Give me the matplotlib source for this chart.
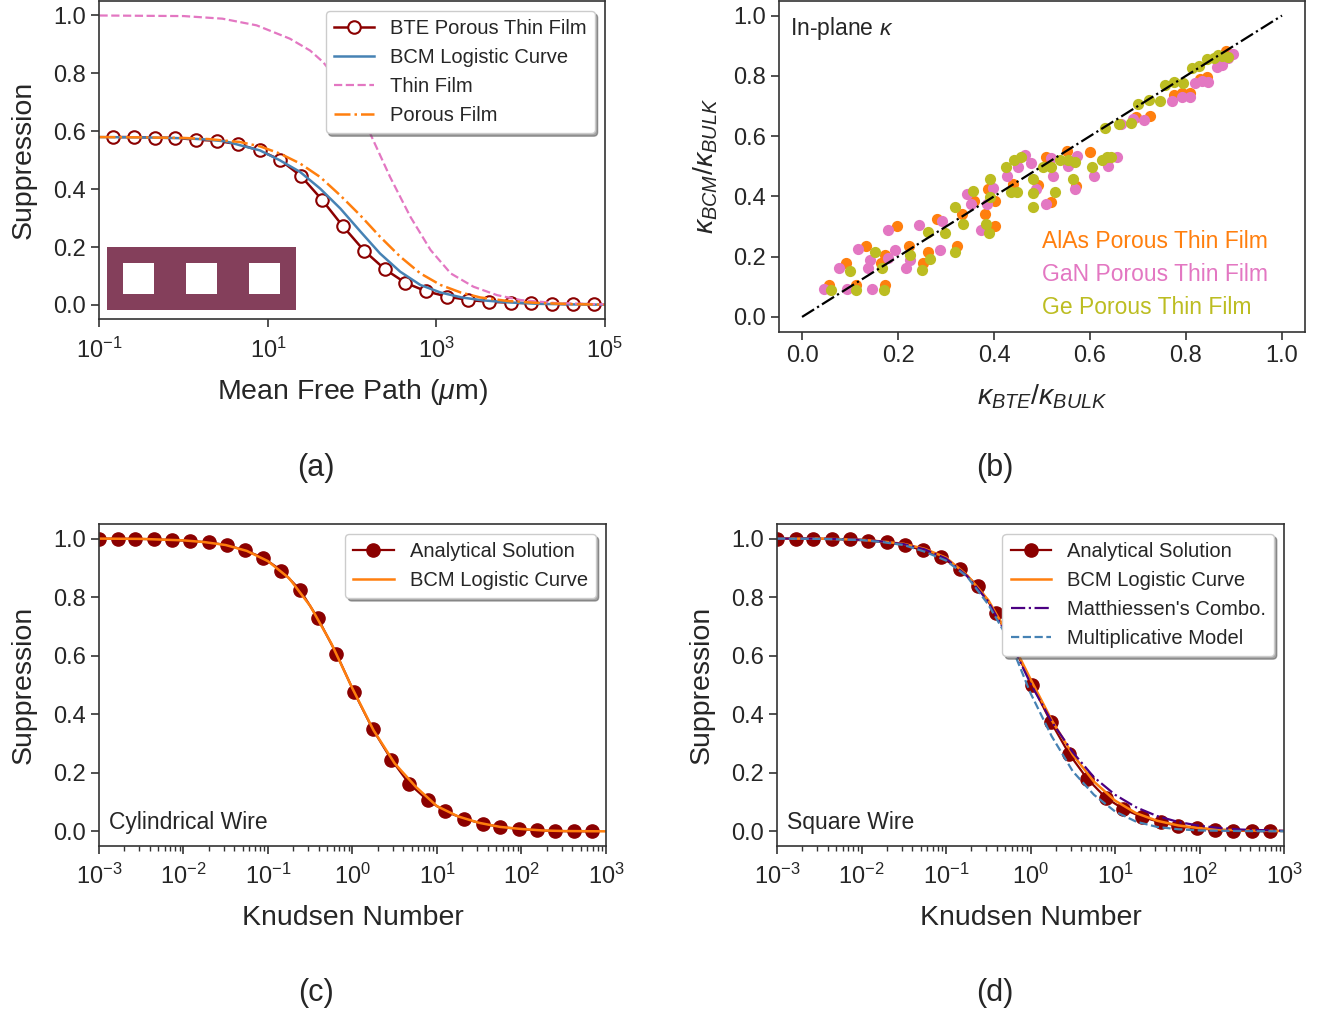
import numpy as np
import matplotlib
matplotlib.use("Agg")
import matplotlib.pyplot as plt
from matplotlib.patches import Rectangle
from matplotlib.ticker import FixedLocator, NullLocator

plt.rcParams['font.family'] = ['Liberation Sans', 'DejaVu Sans']
plt.rcParams['mathtext.fontset'] = 'custom'
plt.rcParams['mathtext.rm'] = 'Liberation Sans'
plt.rcParams['mathtext.it'] = 'Liberation Sans:italic'
plt.rcParams['mathtext.bf'] = 'Liberation Sans:bold'
plt.rcParams['text.color'] = '#262626'
plt.rcParams['axes.labelcolor'] = '#262626'
plt.rcParams['axes.edgecolor'] = '#333333'
plt.rcParams['axes.linewidth'] = 1.2
plt.rcParams['xtick.color'] = '#333333'
plt.rcParams['ytick.color'] = '#333333'
plt.rcParams['xtick.labelcolor'] = '#262626'
plt.rcParams['ytick.labelcolor'] = '#262626'

# ---- (a) porous thin film, suppression vs mean free path (log10 um)
mfp_exp = [-0.84, -0.59, -0.34, -0.10, 0.15, 0.40, 0.65, 0.90, 1.14, 1.39, 1.64, 1.89,
           2.14, 2.39, 2.63, 2.88, 3.13, 3.38, 3.63, 3.88, 4.12, 4.37, 4.62, 4.87]
bte_porous = [0.580, 0.580, 0.578, 0.577, 0.571, 0.567, 0.555, 0.534, 0.502, 0.446, 0.364, 0.272,
              0.188, 0.123, 0.077, 0.047, 0.029, 0.017, 0.011, 0.008, 0.006, 0.004, 0.003, 0.003]

bcm_a_exp = [-1.0, -0.5, 0.0, 0.25, 0.5, 0.667, 0.905, 1.14, 1.38, 1.62, 1.86, 2.10, 2.33,
             2.57, 2.81, 3.05, 3.30, 3.55, 3.85, 4.2, 4.6, 5.0]
bcm_a = [0.580, 0.579, 0.576, 0.572, 0.565, 0.552, 0.534, 0.500, 0.460, 0.402, 0.333, 0.253, 0.178,
         0.115, 0.069, 0.043, 0.026, 0.016, 0.009, 0.004, 0.002, 0.001]

thin_exp = [-1.0, 0.0, 0.46, 0.865, 1.26, 1.5, 1.655, 1.8, 2.0, 2.214, 2.45, 2.69, 2.93,
            3.17, 3.44, 3.72, 4.0, 4.4, 5.0]
thin_film = [1.0, 0.998, 0.989, 0.966, 0.920, 0.879, 0.839, 0.786, 0.694, 0.592, 0.442, 0.305, 0.190,
             0.109, 0.063, 0.034, 0.017, 0.007, 0.002]

porous_exp = [-1.0, -0.5, 0.0, 0.3, 0.667, 0.905, 1.143, 1.38, 1.62, 1.857, 2.095, 2.33, 2.57,
              2.81, 3.05, 3.29, 3.52, 3.84, 4.2, 4.6, 5.0]
porous_film = [0.580, 0.579, 0.577, 0.573, 0.563, 0.548, 0.523, 0.489, 0.442, 0.379, 0.310, 0.236, 0.167,
               0.109, 0.069, 0.043, 0.026, 0.014, 0.007, 0.003, 0.001]

# ---- (b) in-plane kappa: BTE vs BCM
alas_bte = [0.057, 0.092, 0.113, 0.134, 0.172, 0.165, 0.173, 0.198, 0.223, 0.251, 0.262, 0.281,
            0.322, 0.334, 0.358, 0.382, 0.403, 0.387, 0.401, 0.440, 0.491, 0.519, 0.509, 0.553,
            0.570, 0.599, 0.696, 0.726, 0.774, 0.791, 0.809, 0.829, 0.844, 0.883]
alas_bcm = [0.107, 0.178, 0.107, 0.237, 0.107, 0.178, 0.204, 0.302, 0.237, 0.178, 0.217, 0.324,
            0.237, 0.341, 0.384, 0.341, 0.302, 0.425, 0.384, 0.442, 0.437, 0.383, 0.530, 0.549,
            0.433, 0.547, 0.662, 0.667, 0.735, 0.744, 0.744, 0.789, 0.797, 0.881]

gan_bte = [0.046, 0.078, 0.094, 0.116, 0.142, 0.138, 0.145, 0.180, 0.193, 0.179, 0.217, 0.225,
           0.243, 0.288, 0.292, 0.343, 0.353, 0.372, 0.398, 0.385, 0.428, 0.449, 0.464, 0.477,
           0.488, 0.509, 0.518, 0.523, 0.555, 0.572, 0.569, 0.608, 0.638, 0.657, 0.664, 0.689,
           0.712, 0.770, 0.791, 0.808, 0.818, 0.834, 0.846, 0.864, 0.876, 0.887, 0.897]
gan_bcm = [0.093, 0.161, 0.093, 0.225, 0.189, 0.161, 0.093, 0.195, 0.223, 0.287, 0.161, 0.189,
           0.305, 0.223, 0.318, 0.408, 0.375, 0.287, 0.428, 0.375, 0.467, 0.498, 0.538, 0.512,
           0.425, 0.375, 0.527, 0.467, 0.501, 0.534, 0.425, 0.467, 0.501, 0.532, 0.639, 0.656,
           0.654, 0.716, 0.729, 0.729, 0.777, 0.782, 0.780, 0.830, 0.836, 0.858, 0.872]

ge_bte = [0.060, 0.099, 0.113, 0.152, 0.170, 0.166, 0.224, 0.250, 0.267, 0.263, 0.297, 0.318,
          0.318, 0.336, 0.357, 0.384, 0.389, 0.391, 0.392, 0.424, 0.435, 0.447, 0.442, 0.456,
          0.481, 0.481, 0.481, 0.528, 0.502, 0.519, 0.537, 0.555, 0.569, 0.565, 0.604, 0.625,
          0.636, 0.643, 0.631, 0.661, 0.686, 0.700, 0.723, 0.745, 0.756, 0.775, 0.794, 0.813,
          0.827, 0.844, 0.859, 0.866, 0.876, 0.887]
ge_bcm = [0.091, 0.153, 0.091, 0.214, 0.091, 0.161, 0.206, 0.155, 0.192, 0.281, 0.279, 0.214,
          0.366, 0.309, 0.417, 0.307, 0.279, 0.459, 0.397, 0.498, 0.414, 0.414, 0.521, 0.530,
          0.459, 0.412, 0.366, 0.416, 0.496, 0.498, 0.521, 0.521, 0.515, 0.459, 0.498, 0.521,
          0.532, 0.530, 0.628, 0.639, 0.642, 0.707, 0.721, 0.718, 0.768, 0.780, 0.777, 0.827,
          0.834, 0.856, 0.858, 0.870, 0.867, 0.864]

# ---- (c), (d) wires, suppression vs Knudsen number (log10)
kn_exp = [-3.00, -2.78, -2.57, -2.35, -2.14, -1.92, -1.70, -1.49, -1.27, -1.06, -0.84, -0.62, -0.41, -0.19,
          0.02, 0.24, 0.46, 0.67, 0.89, 1.10, 1.32, 1.54, 1.75, 1.97, 2.18, 2.40, 2.62, 2.83]
cyl_analytical = [1.0, 1.0, 0.999, 0.998, 0.995, 0.992, 0.987, 0.978, 0.960, 0.935, 0.891, 0.825, 0.728, 0.607,
                  0.475, 0.349, 0.245, 0.163, 0.106, 0.068, 0.043, 0.026, 0.015, 0.008, 0.003, 0.001, 0.0, 0.0]
sq_analytical = [1.0, 1.0, 1.0, 0.999, 0.997, 0.993, 0.987, 0.978, 0.960, 0.937, 0.896, 0.837, 0.745, 0.625,
                 0.500, 0.374, 0.263, 0.180, 0.115, 0.076, 0.049, 0.031, 0.018, 0.010, 0.006, 0.002, 0.001, 0.0]

curve_exp = [-3.0, -2.5, -2.0, -1.75, -1.5, -1.25, -1.0, -0.75, -0.5, -0.25, 0.0, 0.25, 0.5,
             0.75, 1.0, 1.25, 1.5, 1.75, 2.0, 2.25, 2.5, 3.0]
cyl_bcm = [1.0, 0.999, 0.994, 0.988, 0.978, 0.958, 0.923, 0.865, 0.770, 0.642, 0.488, 0.345, 0.232,
           0.152, 0.086, 0.051, 0.029, 0.015, 0.008, 0.003, 0.001, 0.0]
sq_bcm = [1.0, 1.0, 0.996, 0.990, 0.982, 0.965, 0.935, 0.875, 0.790, 0.665, 0.520, 0.380, 0.262,
          0.170, 0.105, 0.062, 0.036, 0.020, 0.011, 0.006, 0.003, 0.001]
sq_matthiessen = [1.0, 1.0, 0.996, 0.990, 0.981, 0.963, 0.932, 0.872, 0.785, 0.655, 0.505, 0.375, 0.270,
                  0.185, 0.125, 0.082, 0.052, 0.032, 0.019, 0.011, 0.006, 0.002]
sq_multiplicative = [1.0, 0.999, 0.995, 0.988, 0.978, 0.955, 0.925, 0.870, 0.775, 0.650, 0.472, 0.325, 0.205,
                     0.125, 0.068, 0.033, 0.015, 0.007, 0.003, 0.002, 0.001, 0.0]

RED = '#8b0000'
BLUE = '#4682b4'
PINK = '#e377c2'
ORANGE = '#ff7f0e'
OLIVE = '#bcbd22'
INDIGO = '#4b0082'

TICK = 17
LABEL = 20.5
LEG = 14.5

fig = plt.figure(figsize=(13.28, 10.19), dpi=100)
ax_a = fig.add_axes([0.0749, 0.6865, 0.3806, 0.3125])
ax_b = fig.add_axes([0.5866, 0.6742, 0.3961, 0.3253])
ax_c = fig.add_axes([0.0745, 0.1698, 0.3818, 0.3160])
ax_d = fig.add_axes([0.5851, 0.1698, 0.3818, 0.3160])

for ax in (ax_a, ax_b, ax_c, ax_d):
    ax.tick_params(which='major', direction='out', length=6, width=1.2, labelsize=TICK)
    ax.tick_params(which='minor', direction='out', length=3.5, width=1.0)
for ax in (ax_a, ax_c, ax_d):
    ax.tick_params(axis='x', which='major', pad=7)

legkw = dict(fontsize=LEG, fancybox=True, shadow=True, framealpha=1, loc='upper right',
             edgecolor='#cccccc')

# (a)
ax = ax_a
ax.plot(10 ** np.array(mfp_exp), bte_porous, '-o', color=RED, lw=1.8, ms=9,
        mfc='white', mec=RED, mew=1.5, label='BTE Porous Thin Film')
ax.plot(10 ** np.array(bcm_a_exp), bcm_a, '-', color=BLUE, lw=1.8, label='BCM Logistic Curve')
ax.plot(10 ** np.array(thin_exp), thin_film, '--', color=PINK, lw=1.6, label='Thin Film')
ax.plot(10 ** np.array(porous_exp), porous_film, '-.', color=ORANGE, lw=1.8, label='Porous Film')
ax.set_xscale('log')
ax.set_xlim(1e-1, 1e5)
ax.set_ylim(-0.05, 1.05)
ax.xaxis.set_major_locator(FixedLocator([1e-1, 1e1, 1e3, 1e5]))
ax.xaxis.set_minor_locator(NullLocator())
ax.set_yticks([0.0, 0.2, 0.4, 0.6, 0.8, 1.0])
ax.set_xlabel(r'Mean Free Path ($\mu$m)', fontsize=LABEL, labelpad=10.5)
ax.set_ylabel('Suppression', fontsize=LABEL, labelpad=12)
ax.legend(**legkw)
ins = ax.inset_axes([0.0154, 0.0298, 0.3727, 0.1966])
ins.set_facecolor('#843f5b')
for s in ins.spines.values():
    s.set_visible(False)
ins.set_xticks([])
ins.set_yticks([])
for x0 in (0.085, 0.418, 0.750):
    ins.add_patch(Rectangle((x0, 0.255), 0.165, 0.494, transform=ins.transAxes,
                            facecolor='white', edgecolor='none'))

# (b)
ax = ax_b
ax.scatter(alas_bte, alas_bcm, s=65, color=ORANGE, linewidths=0)
ax.scatter(gan_bte, gan_bcm, s=65, color=PINK, linewidths=0)
ax.scatter(ge_bte, ge_bcm, s=65, color=OLIVE, linewidths=0)
ax.plot([0, 1], [0, 1], 'k-.', lw=1.6)
ax.set_xlim(-0.048, 1.048)
ax.set_ylim(-0.05, 1.05)
ax.set_xticks([0.0, 0.2, 0.4, 0.6, 0.8, 1.0])
ax.set_yticks([0.0, 0.2, 0.4, 0.6, 0.8, 1.0])
ax.set_xlabel(r'$\kappa_{BTE}/\kappa_{BULK}$', fontsize=LABEL, labelpad=11)
ax.set_ylabel(r'$\kappa_{BCM}/\kappa_{BULK}$', fontsize=LABEL, labelpad=9)
ax.text(0.021, 0.917, r'In-plane $\kappa$', transform=ax.transAxes, fontsize=16.5,
        ha='left', va='center')
for i, (name, c) in enumerate([('AlAs Porous Thin Film', ORANGE),
                               ('GaN Porous Thin Film', PINK),
                               ('Ge Porous Thin Film', OLIVE)]):
    ax.text(0.50, 0.272 - i * 0.099, name, color=c, transform=ax.transAxes,
            fontsize=16.5, ha='left', va='center')

# (c) and (d)
kn_major = [1e-3, 1e-2, 1e-1, 1e0, 1e1, 1e2, 1e3]
kn_minor = [m * 10.0 ** e for e in range(-3, 3) for m in range(2, 10)]
for ax, pts, label_txt in ((ax_c, cyl_analytical, 'Cylindrical Wire'),
                           (ax_d, sq_analytical, 'Square Wire')):
    ax.plot(10 ** np.array(kn_exp), pts, '-o', color=RED, lw=1.6, ms=9.5,
            label='Analytical Solution')
    ax.set_xscale('log')
    ax.set_xlim(1e-3, 1e3)
    ax.set_ylim(-0.05, 1.05)
    ax.xaxis.set_major_locator(FixedLocator(kn_major))
    ax.xaxis.set_minor_locator(FixedLocator(kn_minor))
    ax.set_yticks([0.0, 0.2, 0.4, 0.6, 0.8, 1.0])
    ax.set_xlabel('Knudsen Number', fontsize=LABEL, labelpad=11)
    ax.set_ylabel('Suppression', fontsize=LABEL, labelpad=12)
    ax.text(0.02, 0.072, label_txt, transform=ax.transAxes, fontsize=16.5,
            ha='left', va='center')

ax_c.plot(10 ** np.array(curve_exp), cyl_bcm, '-', color=ORANGE, lw=1.8, label='BCM Logistic Curve')
ax_c.legend(**legkw)

ax_d.plot(10 ** np.array(curve_exp), sq_bcm, '-', color=ORANGE, lw=1.8, label='BCM Logistic Curve')
ax_d.plot(10 ** np.array(curve_exp), sq_matthiessen, '-.', color=INDIGO, lw=1.6,
          label="Matthiessen's Combo.")
ax_d.plot(10 ** np.array(curve_exp), sq_multiplicative, '--', color=BLUE, lw=1.6,
          label='Multiplicative Model')
ax_d.legend(**legkw)

for txt, x, y in (('(a)', 316, 468), ('(b)', 995, 468), ('(c)', 316, 993), ('(d)', 995, 993)):
    fig.text(x / 1328, 1 - y / 1019, txt, ha='center', va='center', fontsize=22)

fig.savefig('out.png', dpi=100)
